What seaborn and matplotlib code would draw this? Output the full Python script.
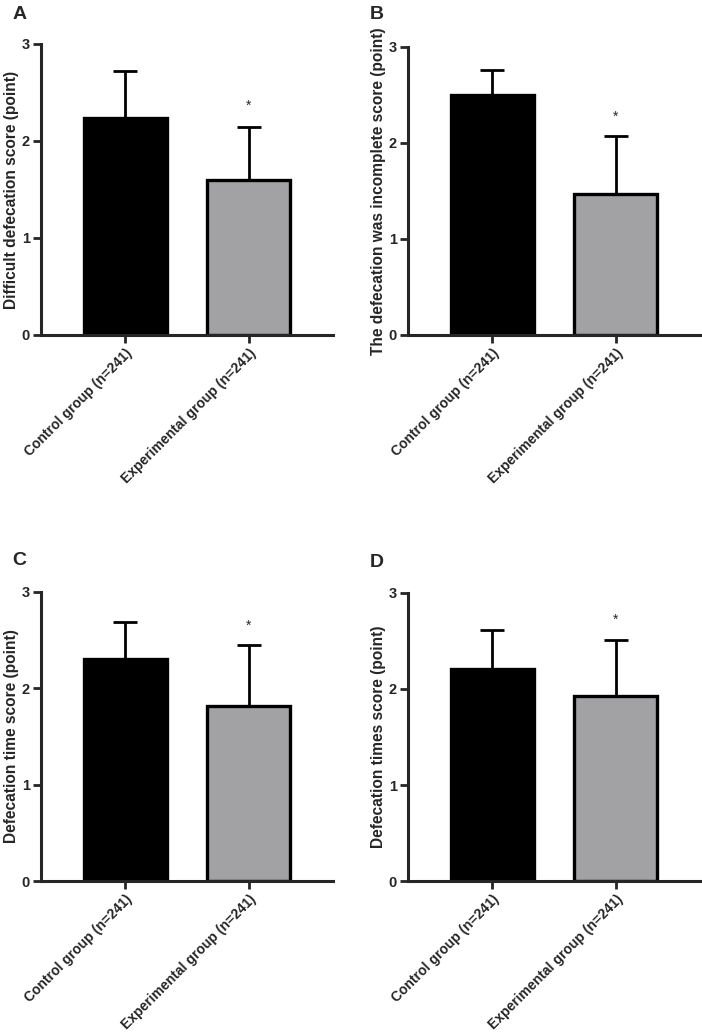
import matplotlib
matplotlib.use("Agg")
import matplotlib.pyplot as plt
import pandas as pd
import numpy as np
import seaborn as sns

sns.set_style("ticks")
plt.rcParams['font.family'] = ['Liberation Sans', 'DejaVu Sans']
plt.rcParams['font.weight'] = 'bold'
plt.rcParams['axes.labelweight'] = 'bold'

# data
groups = ["Control group (n=241)", "Experimental group (n=241)"]
panel_letters = ["A", "B", "C", "D"]
ylabels = ["Difficult defecation score (point)",
           "The defecation was incomplete score (point)",
           "Defecation time score (point)",
           "Defecation times score (point)"]
means_a = [2.24, 1.60]
sd_a = [0.48, 0.54]
means_b = [2.50, 1.47]
sd_b = [0.26, 0.60]
means_c = [2.30, 1.82]
sd_c = [0.39, 0.63]
means_d = [2.21, 1.93]
sd_d = [0.40, 0.58]
star_y = [2.36, 2.27, 2.65, 2.72]

bar_colors = ["#000000", "#a2a1a6"]

fig = plt.figure(figsize=(7.02, 10.32), dpi=100)

# axes boxes [left, bottom, width, height] in figure fraction
boxes = [[0.0584, 0.6754, 0.416, 0.2820],
         [0.5812, 0.6754, 0.416, 0.2791],
         [0.0584, 0.1463, 0.416, 0.2801],
         [0.5812, 0.1463, 0.416, 0.2791]]
letter_pos = [(0.018, 0.994), (0.527, 0.994), (0.018, 0.465), (0.527, 0.463)]

all_means = [means_a, means_b, means_c, means_d]
all_sd = [sd_a, sd_b, sd_c, sd_d]

for i in range(4):
    ax = fig.add_axes(boxes[i])
    df = pd.DataFrame({"group": groups, "mean": all_means[i]})
    sns.barplot(data=df, x="group", y="mean", hue="group", palette=bar_colors,
                width=0.67, edgecolor="black", linewidth=2.4, legend=False,
                ax=ax, errorbar=None)
    xs = np.arange(len(groups))
    ax.errorbar(xs, all_means[i], yerr=[np.zeros(len(groups)), all_sd[i]],
                fmt="none", ecolor="black", elinewidth=2, capsize=8.5,
                capthick=2, zorder=1)
    ax.text(1, star_y[i], "*", ha="center", va="center", fontsize=10,
            fontweight="normal")

    ax.set_ylim(0, 3)
    ax.set_xlim(-0.68, 1.68)
    ax.set_yticks([0, 1, 2, 3])
    ax.set_ylabel(ylabels[i], fontsize=11.2, labelpad=2)
    ax.set_xlabel("")
    ax.set_xticks(xs)
    ax.set_xticklabels(groups, rotation=45, ha="right", rotation_mode="anchor",
                       fontsize=10)
    ax.tick_params(axis="both", width=2, length=6, labelsize=10.5, pad=2)
    ax.tick_params(axis="x", labelsize=10)
    for s in ["left", "bottom"]:
        ax.spines[s].set_linewidth(2.2)
    sns.despine(ax=ax)
    fig.text(letter_pos[i][0], letter_pos[i][1], panel_letters[i],
             fontsize=14, fontweight="bold", va="top", ha="left")

fig.savefig("out.png", dpi=100)
